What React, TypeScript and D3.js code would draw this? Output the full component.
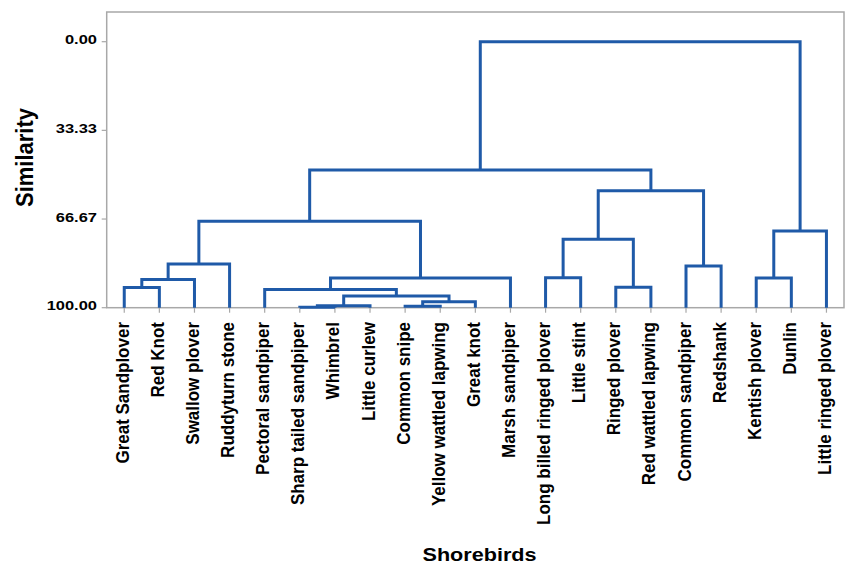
import React from "react";
import * as d3 from "d3";

const leaves: string[] = [
  "Great Sandplover",
  "Red Knot",
  "Swallow plover",
  "Ruddyturn stone",
  "Pectoral sandpiper",
  "Sharp tailed sandpiper",
  "Whimbrel",
  "Little curlew",
  "Common snipe",
  "Yellow wattled lapwing",
  "Great knot",
  "Marsh sandpiper",
  "Long billed ringed plover",
  "Little stint",
  "Ringed plover",
  "Red wattled lapwing",
  "Common sandpiper",
  "Redshank",
  "Kentish plover",
  "Dunlin",
  "Little ringed plover",
];

// merges: [left node, right node, similarity]; leaves are 0..20, clusters 21+
const mergeLeft: number[] = [0, 21, 22, 5, 24, 8, 26, 25, 4, 29, 23, 12, 14, 32, 16, 34, 31, 18, 38, 37];
const mergeRight: number[] = [1, 2, 3, 6, 7, 9, 10, 27, 28, 11, 30, 13, 15, 33, 17, 35, 36, 19, 20, 39];
const mergeSim: number[] = [92.4, 89.4, 83.6, 99.8, 99.3, 99.5, 97.8, 95.6, 93.2, 88.8, 67.5, 88.7, 92.3, 74.3, 84.3, 56.0, 48.2, 88.8, 71.2, 0];

const yTicks: number[] = [0, 33.33, 66.67, 100];

const W = 846;
const H = 565;
const frame = { left: 106.7, right: 844, top: 12, bottom: 307.7 };
const LINE = "#1f5aa8";
const GRID = "#a8a8a8";
const FONT = "Liberation Sans, Arial, Helvetica, sans-serif";

export default function App() {
  const x = d3.scalePoint<string>().domain(leaves).range([frame.left, frame.right]).padding(0.5);
  const y = d3.scaleLinear().domain([0, 100]).range([41.7, frame.bottom]);

  const nodeX: number[] = leaves.map((l) => x(l) as number);
  const nodeY: number[] = leaves.map(() => y(100));
  const paths: string[] = [];
  mergeLeft.forEach((a, i) => {
    const b = mergeRight[i];
    const yy = y(mergeSim[i]);
    const p = d3.path();
    p.moveTo(nodeX[a], nodeY[a]);
    p.lineTo(nodeX[a], yy);
    p.lineTo(nodeX[b], yy);
    p.lineTo(nodeX[b], nodeY[b]);
    paths.push(p.toString());
    nodeX.push((nodeX[a] + nodeX[b]) / 2);
    nodeY.push(yy);
  });

  return (
    <svg width={W} height={H} style={{ position: "absolute", left: 0, top: 0, background: "#fff" }} fontFamily={FONT}>
      <rect x={frame.left} y={frame.top} width={frame.right - frame.left} height={frame.bottom - frame.top} fill="none" stroke={GRID} strokeWidth={1.5} />
      {yTicks.map((t) => (
        <g key={t}>
          <line x1={frame.left - 5} x2={frame.left} y1={y(t)} y2={y(t)} stroke={GRID} strokeWidth={1.2} />
          <text transform={`translate(97,${y(t) + 2.6}) scale(1.22,1)`} textAnchor="end" fontSize={13.5} fontWeight="bold" fill="#000">
            {d3.format(".2f")(t)}
          </text>
        </g>
      ))}
      {leaves.map((l) => (
        <g key={l}>
          <line x1={x(l)} x2={x(l)} y1={frame.bottom} y2={frame.bottom + 5} stroke={GRID} strokeWidth={1.2} />
          <text transform={`translate(${(x(l) as number) + 4.5},${322}) scale(1.09,1) rotate(-90)`} textAnchor="end" fontSize={17} fontWeight="bold" fill="#000">
            {l}
          </text>
        </g>
      ))}
      {paths.map((d, i) => (
        <path key={i} d={d} fill="none" stroke={LINE} strokeWidth={3} strokeLinejoin="miter" />
      ))}
      <text transform={`translate(33,157.5) scale(1.08,1) rotate(-90)`} textAnchor="middle" fontSize={22} fontWeight="bold" fill="#000">
        Similarity
      </text>
      <text transform={`translate(479.5,561) scale(1.2,1)`} textAnchor="middle" fontSize={18} fontWeight="bold" fill="#000">
        Shorebirds
      </text>
    </svg>
  );
}
